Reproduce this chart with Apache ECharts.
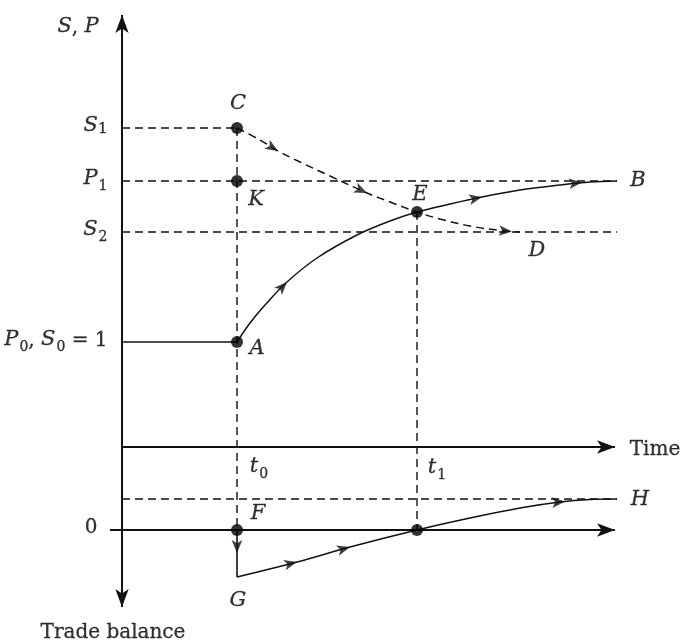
<!DOCTYPE html>
<html>
<head>
<meta charset="utf-8">
<script src="https://cdn.jsdelivr.net/npm/echarts@6/dist/echarts.min.js"></script>
<style>
  html, body { margin: 0; padding: 0; background: #fff; }
  #chart { width: 686px; height: 643px; }
</style>
</head>
<body>
<div id="chart"></div>
<script>
// levels (trade balance 0 = 0)
const levelValues = [40.2, 34.9, 29.8, 18.8, 0]
const levelLabels = ['{i|S}{n|1}', '{i|P}{s|1}', '{i|S}{s|2}', '{i|P}{s|0}{r|, }{i|S}{s|0}{r| = 1}', '{r|0}']
const levelAnchorX = [0, 0, 0, 0, -0.24]

const timeLevel = 8.3
const hLevel = 3.1
const gLevel = -4.7
const t0 = 2.3
const t1 = 5.9
const xEnd = 9.9
const arrowEnd = 9.86

// P: from A to B
const priceCurve = [
  [2.30, 18.8], [2.56, 20.7], [2.86, 22.5], [3.30, 24.8], [3.90, 27.2], [4.70, 29.5],
  [5.36, 30.9], [5.90, 31.8], [6.56, 32.6], [7.20, 33.3], [7.96, 34.0], [8.76, 34.5],
  [9.36, 34.8], [9.90, 34.9],
]
// S: from C to D
const rateCurve = [
  [2.30, 40.2], [2.76, 39.0], [3.12, 37.9], [3.56, 36.8], [4.16, 35.4], [4.90, 33.7],
  [5.36, 32.8], [5.90, 31.8], [6.36, 31.1], [6.96, 30.4], [7.56, 29.95], [7.96, 29.8],
]
// trade balance: from G to H
const tradeCurve = [
  [2.30, -4.7], [3.50, -3.2], [4.56, -1.7], [5.90, 0], [6.96, 1.2], [7.96, 2.2],
  [8.76, 2.8], [9.36, 3.05], [9.90, 3.1],
]

const priceArrows = [[3.30, 24.8], [7.20, 33.3], [9.2, 34.75]]
const rateArrows = [[3.12, 37.9], [4.90, 33.7], [7.8, 29.85]]
const tradeArrows = [[3.50, -3.2], [4.56, -1.7], [8.86, 2.85]]

const dots = [[t0, 40.2], [t0, 34.9], [t0, 18.8], [t1, 31.8], [t0, 0], [t1, 0]]

const letterText = ['{i|C}', '{i|K}', '{i|A}', '{i|E}', '{i|B}', '{i|D}', '{i|F}', '{i|G}', '{i|H}',
  '{i|t}{s|0}', '{i|t}{s|1}', '{r|Time}', '{i|S}{r|, }{i|P}', '{r|Trade balance}']
const letterPos = [[2.32, 42.4], [2.68, 32.8], [2.70, 17.9], [5.96, 33.3], [10.32, 34.7], [8.30, 27.7],
  [2.72, 1.4], [2.32, -7.3], [10.36, 2.8], [2.74, 6.1], [6.30, 6.0], [10.66, 7.8], [-0.88, 50.1], [-0.18, -10.5]]

const INK = '#111'
const FONT = 'DejaVu Serif'
const txt = { fontFamily: FONT, color: '#000', textBorderColor: '#000', textBorderWidth: 0.3, verticalAlign: 'bottom' }
const rich = {
  i: Object.assign({}, txt, { fontStyle: 'italic', fontSize: 21, padding: [0, 0, 4, 0] }),
  r: Object.assign({}, txt, { fontSize: 20, padding: [0, 0, 4, 0] }),
  n: Object.assign({}, txt, { fontSize: 15, padding: [0, 0, 4, 0] }),
  s: Object.assign({}, txt, { fontSize: 14, padding: [0, 0, 0, 1] }),
}

function segment(points, dashed, width) {
  return {
    type: 'line',
    data: points,
    symbol: 'none',
    silent: true,
    z: 2,
    lineStyle: { color: INK, width: width || 1.4, type: dashed ? [8, 5] : 'solid' },
  }
}

function arrowAxis(points, rotations) {
  return {
    type: 'line',
    data: points.map((p, i) => ({
      value: p,
      symbol: rotations[i] === null ? 'none' : 'arrow',
      symbolRotate: rotations[i] || 0,
    })),
    showSymbol: true,
    symbolSize: [10, 18],
    silent: true,
    z: 3,
    itemStyle: { color: INK },
    lineStyle: { color: INK, width: 2 },
  }
}

function curve(points, dashed) {
  return {
    type: 'line',
    data: points,
    symbol: 'none',
    smooth: 0.35,
    silent: true,
    z: 3,
    lineStyle: { color: INK, width: 1.5, type: dashed ? [8, 5] : 'solid' },
  }
}

const chart = echarts.init(document.getElementById('chart'))

const option = {
  animation: false,
  grid: { left: 0, right: 0, top: 0, bottom: 0 },
  xAxis: { type: 'value', min: -2.44, max: 11.28, show: false },
  yAxis: { type: 'value', min: -11.3, max: 53.0, show: false },
  series: [
    // dashed guide lines
    segment([[0, 40.2], [t0, 40.2]], true),
    segment([[0, 34.9], [xEnd, 34.9]], true),
    segment([[0, 29.8], [xEnd, 29.8]], true),
    segment([[0, hLevel], [xEnd, hLevel]], true),
    segment([[t0, 40.2], [t0, 0]], true),
    segment([[t1, 31.8], [t1, 0]], true),
    // solid pieces
    segment([[0, 18.8], [t0, 18.8]], false, 1.6),
    segment([[t0, 0], [t0, gLevel]], false, 1.6),
    // axes
    arrowAxis([[0, -7.7], [0, 51.5]], [180, 0]),
    arrowAxis([[0, timeLevel], [arrowEnd, timeLevel]], [null, -90]),
    arrowAxis([[-0.24, 0], [arrowEnd, 0]], [null, -90]),
    // curves
    curve(priceCurve, false),
    curve(rateCurve, true),
    curve(tradeCurve, false),
    {
      id: 'arrows',
      type: 'scatter',
      data: [],
      symbol: 'arrow',
      symbolSize: [8, 13],
      silent: true,
      z: 4,
      itemStyle: { color: INK },
    },
    {
      type: 'scatter',
      data: dots,
      symbol: 'circle',
      symbolSize: 12,
      silent: true,
      z: 5,
      itemStyle: { color: '#000' },
    },
    // axis level labels
    {
      type: 'scatter',
      data: levelValues.map((v, i) => ({
        value: [levelAnchorX[i], v],
        label: { formatter: levelLabels[i], distance: i === 4 ? 12 : 14 },
      })),
      symbolSize: 1,
      silent: true,
      itemStyle: { color: 'rgba(0,0,0,0)' },
      label: { show: true, position: 'left', rich },
    },
    // point letters and axis names
    {
      type: 'scatter',
      data: letterPos.map((p, i) => ({ value: p, label: { formatter: letterText[i] } })),
      symbolSize: 1,
      silent: true,
      itemStyle: { color: 'rgba(0,0,0,0)' },
      label: { show: true, position: 'inside', align: 'center', verticalAlign: 'middle', rich },
    },
  ],
}

chart.setOption(option)

// turn each arrow head along its curve
function arrowItems(points, line) {
  return points.map((p) => {
    let i = line.findIndex((c) => c[0] >= p[0])
    if (i <= 0) i = 1
    const a = chart.convertToPixel({ gridIndex: 0 }, line[i - 1])
    const b = chart.convertToPixel({ gridIndex: 0 }, line[i])
    const ang = (Math.atan2(a[1] - b[1], b[0] - a[0]) * 180) / Math.PI
    return { value: p, symbolRotate: ang - 90 }
  })
}

const arrowData = []
  .concat(arrowItems(priceArrows, priceCurve))
  .concat(arrowItems(rateArrows, rateCurve))
  .concat(arrowItems(tradeArrows, tradeCurve))
arrowData.push({ value: [t0, -2.3], symbolRotate: 180 })

chart.setOption({ series: [{ id: 'arrows', data: arrowData }] })
</script>
</body>
</html>
